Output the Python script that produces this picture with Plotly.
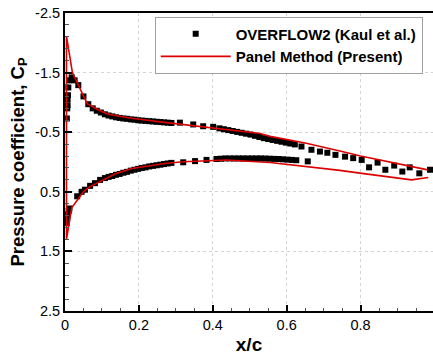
import plotly.graph_objects as go

# OVERFLOW2 (Kaul et al.) surface pressure, upper surface
x_upper_cfd = [0.005, 0.006, 0.007, 0.007, 0.008, 0.009, 0.011, 0.018, 0.026, 0.036,
               0.050, 0.063, 0.075, 0.086, 0.097, 0.108, 0.118, 0.128, 0.138, 0.148,
               0.158, 0.168, 0.178, 0.188, 0.198, 0.208, 0.218, 0.228, 0.238, 0.248,
               0.258, 0.268, 0.278, 0.288, 0.311, 0.347, 0.374, 0.401, 0.418, 0.430,
               0.442, 0.454, 0.466, 0.478, 0.490, 0.502, 0.514, 0.526, 0.538, 0.550,
               0.562, 0.574, 0.586, 0.598, 0.610, 0.622, 0.640, 0.667, 0.690, 0.710,
               0.732, 0.758, 0.780, 0.803, 0.846, 0.891, 0.933, 0.988]
cp_upper_cfd = [-0.73, -0.90, -0.95, -1.05, -1.12, -1.25, -1.37, -1.42, -1.37, -1.29,
                -1.10, -0.97, -0.90, -0.86, -0.83, -0.80, -0.78, -0.765, -0.75, -0.74,
                -0.73, -0.725, -0.715, -0.71, -0.70, -0.695, -0.69, -0.685, -0.68, -0.675,
                -0.67, -0.665, -0.66, -0.655, -0.66, -0.63, -0.60, -0.59, -0.565, -0.55,
                -0.535, -0.52, -0.505, -0.49, -0.475, -0.46, -0.44, -0.42, -0.40, -0.385,
                -0.37, -0.355, -0.34, -0.325, -0.31, -0.295, -0.26, -0.205, -0.175, -0.155,
                -0.12, -0.09, -0.065, -0.035, 0.01, 0.06, 0.09, 0.13]

# OVERFLOW2 (Kaul et al.) surface pressure, lower surface
x_lower_cfd = [0.005, 0.006, 0.008, 0.010, 0.012, 0.033, 0.045, 0.054, 0.068, 0.081,
               0.095, 0.108, 0.118, 0.128, 0.138, 0.148, 0.158, 0.168, 0.178, 0.188,
               0.198, 0.208, 0.218, 0.228, 0.238, 0.248, 0.258, 0.268, 0.278, 0.288,
               0.320, 0.352, 0.383, 0.410, 0.422, 0.434, 0.446, 0.458, 0.470, 0.482,
               0.494, 0.506, 0.518, 0.530, 0.542, 0.554, 0.566, 0.578, 0.590, 0.602,
               0.614, 0.626, 0.657, 0.823, 0.867, 0.913, 0.959]
cp_lower_cfd = [1.02, 0.95, 0.88, 0.82, 0.78, 0.575, 0.50, 0.465, 0.40, 0.355,
                0.30, 0.27, 0.25, 0.235, 0.215, 0.20, 0.18, 0.165, 0.145, 0.13,
                0.115, 0.10, 0.09, 0.075, 0.065, 0.055, 0.045, 0.035, 0.025, 0.015,
                0.005, -0.015, -0.035, -0.05, -0.055, -0.06, -0.06, -0.06, -0.06, -0.06,
                -0.06, -0.06, -0.06, -0.06, -0.058, -0.055, -0.052, -0.05, -0.045, -0.04,
                -0.035, -0.03, -0.01, 0.09, 0.13, 0.16, 0.19]

# Panel method (present): lower surface from trailing edge to leading edge
x_lower_panel = [0.983, 0.938, 0.798, 0.744, 0.555, 0.519, 0.437, 0.320, 0.275,
                 0.185, 0.176, 0.135, 0.100, 0.063, 0.050, 0.018, 0.004]
cp_lower_panel = [0.259, 0.299, 0.187, 0.140, 0.009, -0.007, -0.034, -0.005, 0.020,
                  0.104, 0.116, 0.200, 0.310, 0.430, 0.500, 0.770, 1.300]

# Panel method (present): upper surface from leading edge to trailing edge
x_upper_panel = [0.004, 0.020, 0.060, 0.086, 0.113, 0.135, 0.185, 0.275, 0.401,
                 0.473, 0.528, 0.555, 0.650, 0.744, 0.800, 0.982]
cp_upper_panel = [-2.11, -1.50, -0.98, -0.89, -0.81, -0.78, -0.73, -0.66, -0.573,
                  -0.517, -0.478, -0.43, -0.32, -0.186, -0.10, 0.132]

# Axis ticks
y_tick_vals = [-2.5, -1.5, -0.5, 0.5, 1.5, 2.5]
y_tick_text = ["-2.5", "-1.5", "-0.5", "0.5", "1.5", "2.5"]
x_tick_vals = [0, 0.2, 0.4, 0.6, 0.8]
x_tick_text = ["0", "0.2", "0.4", "0.6", "0.8"]

FONT = "Liberation Sans, Arial, Helvetica, sans-serif"

fig = go.Figure()

fig.add_trace(go.Scatter(
    x=x_upper_cfd + x_lower_cfd,
    y=cp_upper_cfd + cp_lower_cfd,
    mode="markers",
    name="OVERFLOW2 (Kaul et al.)",
    marker=dict(symbol="square", size=6, color="black", line=dict(width=0)),
))

fig.add_trace(go.Scatter(
    x=x_lower_panel + x_upper_panel,
    y=cp_lower_panel + cp_upper_panel,
    mode="lines",
    name="Panel Method (Present)",
    line=dict(color="#dd0000", width=1.6),
))

fig.update_layout(
    width=433,
    height=355,
    margin=dict(l=65, r=0, t=13, b=41),
    paper_bgcolor="white",
    plot_bgcolor="white",
    font=dict(family=FONT, color="black", size=14.5),
    showlegend=True,
    legend=dict(
        x=0.972, y=0.988, xanchor="right", yanchor="top",
        bgcolor="white", bordercolor="#a0a0a0", borderwidth=1,
        font=dict(family=FONT, size=15, color="black", weight="bold"),
        itemwidth=70,
        tracegroupgap=0,
    ),
)

fig.update_xaxes(
    range=[0, 0.996],
    tickmode="array", tickvals=x_tick_vals, ticktext=x_tick_text,
    ticks="inside", ticklen=6, tickwidth=1.5, tickcolor="black",
    minor=dict(tickmode="linear", tick0=0, dtick=0.05, ticks="inside",
               ticklen=3, tickwidth=1, tickcolor="#555555", showgrid=False),
    showline=True, linecolor="black", linewidth=2, mirror=True,
    showgrid=True, gridcolor="#d4d4d4", griddash="dot", gridwidth=1,
    zeroline=False,
    tickfont=dict(size=14.5),
    title=dict(text="<b>x/c</b>", font=dict(size=19), standoff=8),
)

fig.update_yaxes(
    range=[2.5, -2.5],
    tickmode="array", tickvals=y_tick_vals, ticktext=y_tick_text,
    ticks="inside", ticklen=7, tickwidth=1.5, tickcolor="black",
    minor=dict(tickmode="linear", tick0=-2.5, dtick=0.2, ticks="inside",
               ticklen=4, tickwidth=1, tickcolor="#555555", showgrid=False),
    showline=True, linecolor="black", linewidth=2, mirror=False,
    showgrid=True, gridcolor="#d4d4d4", griddash="dot", gridwidth=1,
    zeroline=False,
    tickfont=dict(size=14.5),
    title=dict(text="<b>Pressure coefficient, C<sub>P</sub></b>",
               font=dict(size=18.5), standoff=6),
)

fig.write_html("out.html")
